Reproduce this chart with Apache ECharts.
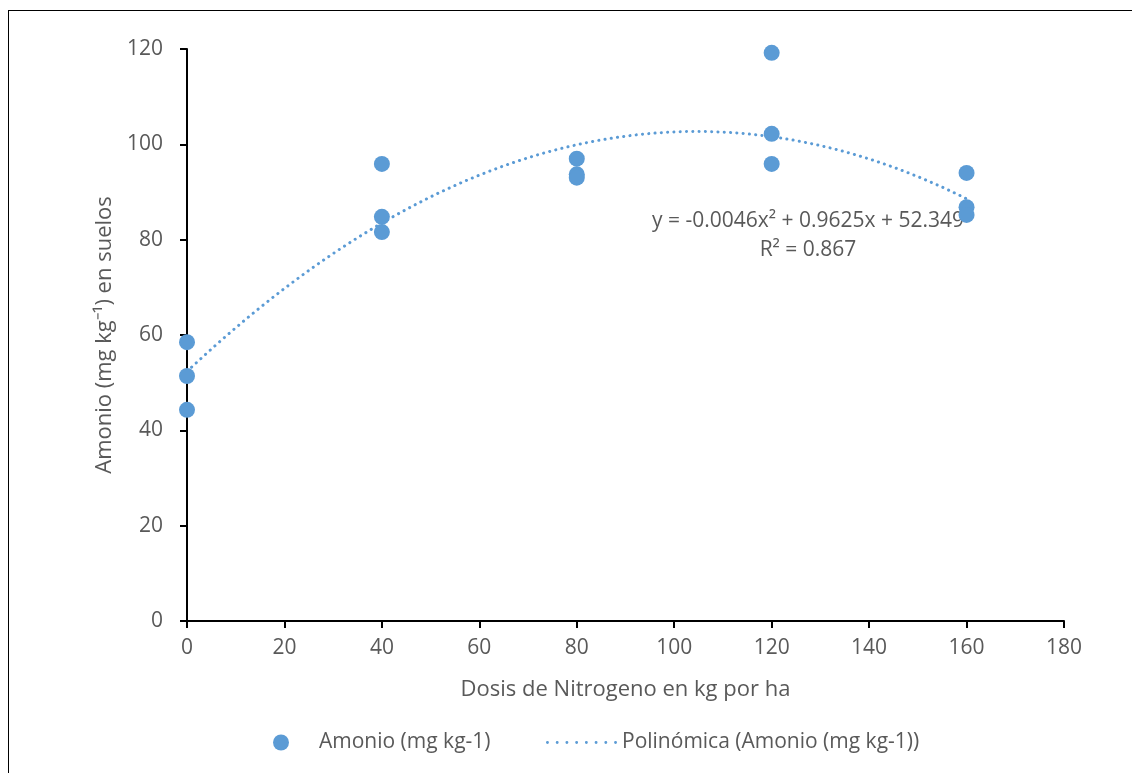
<!DOCTYPE html>
<html><head><meta charset="utf-8">
<script src="https://cdn.jsdelivr.net/npm/echarts@6/dist/echarts.min.js"></script>
<style>
html,body{margin:0;padding:0;background:#fff;}
#frame{position:absolute;left:8px;top:10px;width:1130px;height:770px;border-left:1.5px solid #000;border-top:1.5px solid #000;}
#c{position:absolute;left:0;top:0;width:1132px;height:773px;}
</style></head>
<body><div id="frame"></div><div id="c"></div>
<script>
const doses = [0,0,0,40,40,40,80,80,80,120,120,120,160,160,160];
const amonio = [58.5,51.4,44.3,95.9,84.8,81.6,97.0,93.7,93.0,119.2,102.2,95.9,94.0,86.8,85.2];
const trendCoef = [52.349, 0.9625, -0.0046]; // c0 + c1 x + c2 x^2 (from displayed equation)
const trendRange = [0,160];
const xTicks = [0,180,20];
const yTicks = [0,120,20];
const eqText = 'y = -0.0046x² + 0.9625x + 52.349';
const r2Text = 'R² = 0.867';
const seriesNames = ['Amonio (mg kg-1)','Polinómica (Amonio (mg kg-1))'];

const trend = [];
for (let x = trendRange[0]; x <= trendRange[1]; x += 2) {
  trend.push([x, trendCoef[0] + trendCoef[1]*x + trendCoef[2]*x*x]);
}
const col = '#5B9BD5';
const gray = '#595959';
const ff = '"Open Sans", sans-serif';
// dotted legend icon
let dotPath = 'path://';
for (let i = 0; i < 8; i++) { const cx = i*10 + 1.5; dotPath += `M${cx-1.5},1.5a1.5,1.5 0 1,0 3,0a1.5,1.5 0 1,0 -3,0z`; }
const chart = echarts.init(document.getElementById('c'));
chart.setOption({
  animation:false,
  grid:{left:187,top:49,right:68,bottom:152,containLabel:false},
  xAxis:{type:'value',min:xTicks[0],max:xTicks[1],interval:xTicks[2],
    name:'Dosis de Nitrogeno en kg por ha',nameLocation:'middle',nameGap:58,
    nameTextStyle:{color:gray,fontSize:22,fontFamily:ff},
    axisLine:{lineStyle:{color:'#000',width:2}},
    axisTick:{show:true,length:7,lineStyle:{color:'#000',width:2}},
    axisLabel:{color:gray,fontSize:21,fontFamily:ff,margin:17},
    splitLine:{show:false}},
  yAxis:{type:'value',min:yTicks[0],max:yTicks[1],interval:yTicks[2],
    name:'Amonio (mg kg⁻¹) en suelos',nameLocation:'middle',nameGap:71,
    nameTextStyle:{color:gray,fontSize:22,fontFamily:ff},
    axisLine:{show:true,lineStyle:{color:'#000',width:2}},
    axisTick:{show:true,length:7,lineStyle:{color:'#000',width:2}},
    axisLabel:{color:gray,fontSize:21,fontFamily:ff,margin:24},
    splitLine:{show:false}},
  legend:[
    {data:[seriesNames[0]],left:268,top:727,icon:'circle',itemWidth:16,itemHeight:16,itemGap:0,
     textStyle:{color:gray,fontSize:21,fontFamily:ff,padding:[0,0,0,25]}},
    {data:[{name:seriesNames[1],icon:dotPath}],left:541,top:727,itemWidth:71,itemHeight:3,
     textStyle:{color:gray,fontSize:21,fontFamily:ff,padding:[0,0,0,0]}}
  ],
  graphic:[
    {type:'text',style:{text:eqText,fill:gray,font:'21px '+ff,textAlign:'center',textVerticalAlign:'middle'},x:808,y:221,silent:true},
    {type:'text',style:{text:r2Text,fill:gray,font:'21px '+ff,textAlign:'center',textVerticalAlign:'middle'},x:808,y:250,silent:true}
  ],
  series:[
    {name:seriesNames[0],type:'scatter',data:doses.map((d,i)=>[d,amonio[i]]),
     symbolSize:16,itemStyle:{color:col,opacity:1},z:3},
    {name:seriesNames[1],type:'line',data:trend,showSymbol:false,symbol:'none',smooth:false,
     lineStyle:{color:col,width:3,type:[0.1,6.2],cap:'round'},itemStyle:{color:col},z:2}
  ]
});
</script></body></html>
